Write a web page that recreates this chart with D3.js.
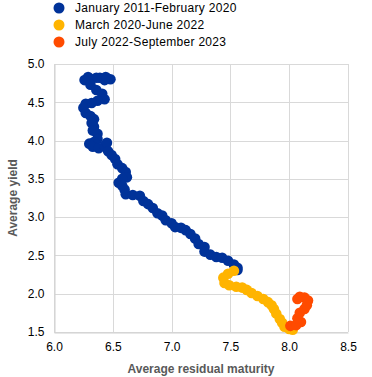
<!DOCTYPE html>
<html>
<head>
<meta charset="utf-8">
<script src="https://cdn.jsdelivr.net/npm/d3@7"></script>
<style>
  body { margin: 0; background: #fff; }
  svg { display: block; font-family: "Liberation Sans", Arial, sans-serif; }
</style>
</head>
<body>
<svg id="chart" width="372" height="377"></svg>
<script>
// Average residual maturity (x) and average yield (y), monthly readings
const blueX = [6.39, 6.44, 6.48, 6.43, 6.36, 6.29, 6.26, 6.31, 6.36, 6.41, 6.43, 6.37, 6.32, 6.27, 6.25, 6.27,
  6.31, 6.34, 6.32, 6.34, 6.33, 6.37, 6.37, 6.34, 6.30, 6.33, 6.38, 6.43, 6.45, 6.46, 6.49, 6.52, 6.54,
  6.58, 6.61, 6.62, 6.58, 6.55, 6.58, 6.60, 6.61, 6.67, 6.73, 6.76, 6.80, 6.84, 6.88, 6.92, 6.95, 7.00,
  7.03, 7.08, 7.12, 7.16, 7.20, 7.23, 7.28, 7.28, 7.33, 7.38, 7.43, 7.48, 7.53, 7.56, 7.56];
const blueY = [4.82, 4.83, 4.80, 4.79, 4.82, 4.83, 4.79, 4.73, 4.66, 4.61, 4.54, 4.52, 4.49, 4.48, 4.43, 4.36,
  4.32, 4.28, 4.23, 4.18, 4.13, 4.09, 4.02, 3.98, 3.96, 3.92, 3.90, 3.93, 3.97, 3.86, 3.81, 3.76, 3.69,
  3.64, 3.59, 3.52, 3.50, 3.45, 3.41, 3.36, 3.30, 3.29, 3.28, 3.21, 3.17, 3.12, 3.05, 3.02, 2.96, 2.92,
  2.87, 2.86, 2.83, 2.78, 2.72, 2.65, 2.61, 2.55, 2.51, 2.48, 2.47, 2.43, 2.38, 2.34, 2.31];
const yellowX = [7.53, 7.48, 7.44, 7.45, 7.49, 7.55, 7.60, 7.64, 7.68, 7.73, 7.78, 7.82, 7.85, 7.87, 7.89,
  7.92, 7.94, 7.96, 8.00, 8.03];
const yellowY = [2.30, 2.26, 2.21, 2.14, 2.11, 2.09, 2.08, 2.05, 2.01, 1.97, 1.93, 1.89, 1.85, 1.80, 1.74,
  1.67, 1.62, 1.57, 1.54, 1.53];
const orangeX = [8.01, 8.06, 8.10, 8.07, 8.09, 8.13, 8.15, 8.16, 8.13, 8.09, 8.07];
const orangeY = [1.58, 1.59, 1.63, 1.68, 1.75, 1.80, 1.85, 1.91, 1.95, 1.96, 1.93];

const seriesNames = ["January 2011-February 2020", "March 2020-June 2022", "July 2022-September 2023"];
const seriesColors = ["#003299", "#ffb400", "#ff4b00"];
const xTicks = [6.0, 6.5, 7.0, 7.5, 8.0, 8.5];
const yTicks = [1.5, 2.0, 2.5, 3.0, 3.5, 4.0, 4.5, 5.0];

const series = [
  blueX.map((x, i) => ({ x, y: blueY[i] })),
  yellowX.map((x, i) => ({ x, y: yellowY[i] })),
  orangeX.map((x, i) => ({ x, y: orangeY[i] })),
];

const svg = d3.select("#chart");
const margin = { left: 54, right: 24, top: 64, bottom: 45 };
const width = 372, height = 377;

const x = d3.scaleLinear().domain([6.0, 8.5]).range([margin.left, width - margin.right]);
const y = d3.scaleLinear().domain([1.5, 5.0]).range([height - margin.bottom, margin.top]);

// Gridlines
const grid = svg.append("g");
grid.selectAll("line.v").data(xTicks).join("line")
  .attr("x1", d => Math.round(x(d)) + 0.5).attr("x2", d => Math.round(x(d)) + 0.5)
  .attr("y1", y(5.0)).attr("y2", y(1.5))
  .attr("stroke", "#d9d9d9").attr("stroke-width", 1);
grid.selectAll("line.h").data(yTicks).join("line")
  .attr("x1", x(6.0)).attr("x2", x(8.5))
  .attr("y1", d => Math.round(y(d)) + 0.5).attr("y2", d => Math.round(y(d)) + 0.5)
  .attr("stroke", "#d9d9d9").attr("stroke-width", 1);

// Axes
const xAxis = svg.append("g")
  .attr("transform", `translate(0,${Math.round(y(1.5)) + 0.5})`)
  .call(d3.axisBottom(x).tickValues(xTicks).tickFormat(d3.format(".1f")).tickSize(0).tickPadding(10));
const yAxis = svg.append("g")
  .attr("transform", `translate(${Math.round(x(6.0)) + 0.5},0)`)
  .call(d3.axisLeft(y).tickValues(yTicks).tickFormat(d3.format(".1f")).tickSize(0).tickPadding(10));
[xAxis, yAxis].forEach(a => {
  a.select(".domain").attr("stroke", "#d0d0d0");
  a.selectAll("text").attr("font-size", 12).attr("fill", "#000")
    .attr("font-family", "'Liberation Sans', Arial, sans-serif");
});

// Axis titles
svg.append("text")
  .attr("x", (x(6.0) + x(8.5)) / 2).attr("y", 373)
  .attr("text-anchor", "middle").attr("font-size", 12).attr("font-weight", "bold")
  .attr("fill", "#595959").text("Average residual maturity");
svg.append("text")
  .attr("transform", `translate(17,${(y(1.5) + y(5.0)) / 2}) rotate(-90)`)
  .attr("text-anchor", "middle").attr("font-size", 12).attr("font-weight", "bold")
  .attr("fill", "#595959").text("Average yield");

// Series: connecting line plus markers
const line = d3.line().x(d => x(d.x)).y(d => y(d.y));
const marks = svg.append("g");
series.forEach((pts, i) => {
  const prev = i > 0 ? [series[i - 1][series[i - 1].length - 1]] : [];
  marks.append("path")
    .datum(prev.concat(pts))
    .attr("d", line)
    .attr("fill", "none")
    .attr("stroke", seriesColors[i])
    .attr("stroke-width", 6)
    .attr("stroke-linejoin", "round");
  marks.append("g").selectAll("circle").data(pts).join("circle")
    .attr("cx", d => x(d.x)).attr("cy", d => y(d.y))
    .attr("r", 5.3).attr("fill", seriesColors[i]);
});

// Legend
const legend = svg.append("g");
seriesNames.forEach((name, i) => {
  legend.append("circle").attr("cx", 59).attr("cy", 8 + i * 17).attr("r", 5.5).attr("fill", seriesColors[i]);
  legend.append("text").attr("x", 75).attr("y", 12 + i * 17)
    .attr("font-size", 12).attr("letter-spacing", 0.3).attr("fill", "#000").text(name);
});
</script>
</body>
</html>
